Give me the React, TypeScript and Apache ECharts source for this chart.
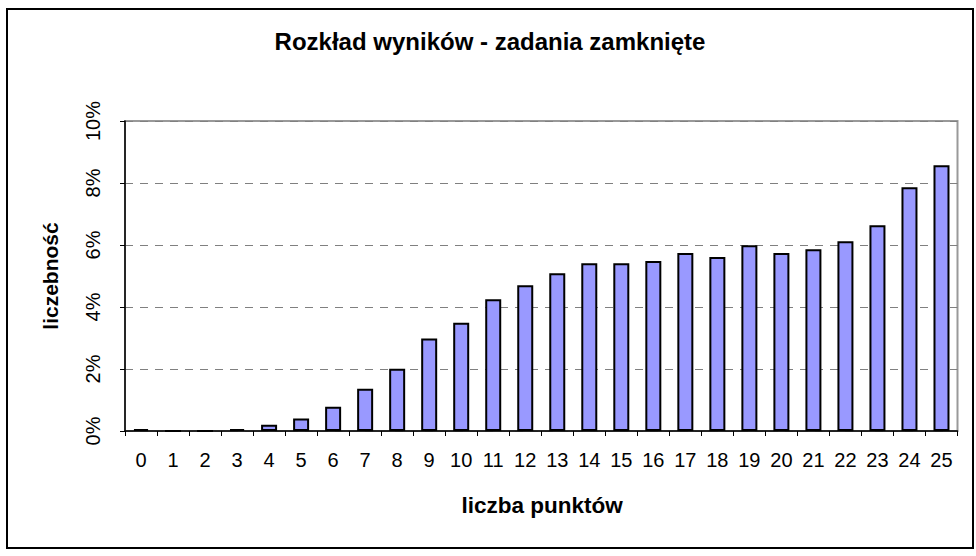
import React, { useEffect, useRef } from "react";
import * as echarts from "echarts";

const categories = ["0","1","2","3","4","5","6","7","8","9","10","11","12","13","14","15","16","17","18","19","20","21","22","23","24","25"];
const values = [0.06, 0, 0, 0.06, 0.2, 0.4, 0.78, 1.36, 2.01, 2.98, 3.49, 4.25, 4.7, 5.09, 5.41, 5.41, 5.48, 5.74, 5.61, 5.99, 5.74, 5.86, 6.12, 6.64, 7.86, 8.57];
const titleText = "Rozkład wyników - zadania zamknięte";
const xName = "liczba punktów";
const yName = "liczebność";

const FONT = "'Liberation Sans', Arial, sans-serif";

export default function App() {
  const ref = useRef<HTMLDivElement>(null);
  useEffect(() => {
    document.body.style.margin = "0";
    const chart = echarts.init(ref.current!, null, { renderer: "svg" });
    chart.setOption({
      animation: false,
      backgroundColor: "#ffffff",
      grid: {
        left: 125,
        right: 18.5,
        top: 121,
        bottom: 125,
        show: true,
        borderColor: "#999999",
        borderWidth: 2,
        backgroundColor: "transparent",
      },
      xAxis: {
        type: "category",
        data: categories,
        boundaryGap: true,
        axisLine: { show: true, lineStyle: { color: "#000", width: 1.5 } },
        axisTick: { show: true, length: 5, alignWithLabel: false, lineStyle: { color: "#000", width: 1 } },
        axisLabel: { color: "#000", fontSize: 20, fontFamily: FONT, margin: 19, interval: 0 },
        splitLine: { show: false },
      },
      yAxis: {
        type: "value",
        min: 0,
        max: 10,
        interval: 2,
        axisLine: { show: true, lineStyle: { color: "#000", width: 1.5 } },
        axisTick: { show: true, length: 5, lineStyle: { color: "#000", width: 1 } },
        axisLabel: {
          color: "#000",
          fontSize: 20,
          fontFamily: FONT,
          rotate: 90,
          margin: 22,
          formatter: "{value}%",
        },
        splitLine: { show: true, lineStyle: { color: "#808080", width: 1, type: [8, 7] } },
      },
      series: [
        {
          type: "bar",
          data: values,
          barWidth: 16,
          itemStyle: { color: "#9999FF", borderColor: "#000", borderWidth: 2 },
        },
      ],
      graphic: [
        {
          type: "rect",
          shape: { x: 7, y: 9, width: 966, height: 539 },
          style: { fill: "none", stroke: "#000", lineWidth: 2 },
          silent: true,
        },
        {
          type: "text",
          x: 490,
          y: 41,
          style: {
            text: titleText,
            fill: "#000",
            font: `bold 24px ${FONT}`,
            align: "center",
            verticalAlign: "middle",
          },
        },
        {
          type: "text",
          x: 542,
          y: 505,
          style: {
            text: xName,
            fill: "#000",
            font: `bold 22.5px ${FONT}`,
            align: "center",
            verticalAlign: "middle",
          },
        },
        {
          type: "text",
          x: 50,
          y: 276,
          rotation: Math.PI / 2,
          style: {
            text: yName,
            fill: "#000",
            font: `bold 21px ${FONT}`,
            align: "center",
            verticalAlign: "middle",
          },
        },
      ],
    });
    return () => chart.dispose();
  }, []);
  return <div ref={ref} style={{ width: 976, height: 556 }} />;
}
